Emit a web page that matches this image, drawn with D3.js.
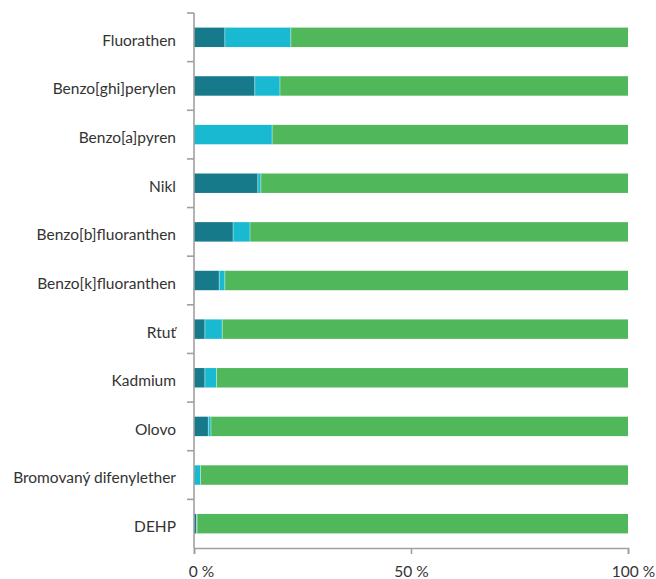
<!DOCTYPE html>
<html><head><meta charset="utf-8">
<script src="https://cdn.jsdelivr.net/npm/d3@7"></script>
<style>body{margin:0;background:#fff;} text{font-family:Lato,"Open Sans",sans-serif;}</style>
</head><body>
<svg id="chart" width="656" height="579"></svg>
<script>
const categories = ["Fluorathen","Benzo[ghi]perylen","Benzo[a]pyren","Nikl","Benzo[b]fluoranthen","Benzo[k]fluoranthen","Rtuť","Kadmium","Olovo","Bromovaný difenylether","DEHP"];
const seriesDark = [7.1, 14.0, 0, 14.7, 9.0, 5.8, 2.5, 2.5, 3.3, 0, 0.6];
const seriesCyan = [15.2, 5.8, 18.0, 0.7, 3.9, 1.3, 4.0, 2.7, 0.6, 1.5, 0.1];
const seriesGreen = seriesDark.map((d,i)=>100 - d - seriesCyan[i]);
const tickValues = [0, 50, 100];
const tickLabels = ["0 %", "50 %", "100 %"];
const colors = ["#177a8b", "#19bad1", "#50b85a"];

const svg = d3.select("#chart");
const mLeft = 194, mRight = 628, mTop = 13, mBottom = 548;
const x = d3.scaleLinear().domain([0,100]).range([mLeft,mRight]);
const y = d3.scaleBand().domain(categories).range([mTop,mBottom]).paddingInner(0.6).paddingOuter(0.3);

const rows = categories.map((c,i)=>({cat:c, dark:seriesDark[i], cyan:seriesCyan[i], green:seriesGreen[i]}));
const stack = d3.stack().keys(["dark","cyan","green"])(rows);

svg.append("g").selectAll("g").data(stack).join("g")
  .attr("fill",(d,i)=>colors[i])
  .selectAll("rect").data(d=>d).join("rect")
  .attr("x",d=>x(d[0]))
  .attr("width",d=>Math.max(0,x(d[1])-x(d[0])))
  .attr("y",d=>y(d.data.cat))
  .attr("height",y.bandwidth());

// separators
svg.append("g").selectAll("line").data(stack.slice(0,2).flatMap(s=>s.filter(d=>d[1]>0.3 && d[1]<99.7)))
  .join("line")
  .attr("x1",d=>x(d[1])).attr("x2",d=>x(d[1]))
  .attr("y1",d=>y(d.data.cat)).attr("y2",d=>y(d.data.cat)+y.bandwidth())
  .attr("stroke","#ffffff").attr("stroke-opacity",0.5).attr("stroke-width",0.8);

const axisColor = "#a0a0a0";
const step = (mBottom-mTop)/categories.length;
const gy = svg.append("g");
gy.append("line").attr("x1",mLeft).attr("x2",mLeft).attr("y1",mTop).attr("y2",mBottom).attr("stroke",axisColor).attr("stroke-width",1.6);
gy.selectAll("line.t").data(d3.range(categories.length)).join("line").attr("class","t")
  .attr("x1",mLeft-7).attr("x2",mLeft).attr("y1",i=>mTop+i*step).attr("y2",i=>mTop+i*step)
  .attr("stroke",axisColor).attr("stroke-width",1.6);
gy.selectAll("text").data(categories).join("text")
  .attr("x",176).attr("y",d=>y(d)+y.bandwidth()/2+3).attr("dy","0.35em")
  .attr("text-anchor","end").attr("font-size",15.5).attr("fill","#333").text(d=>d);

const gx = svg.append("g").attr("transform",`translate(0,${mBottom})`);
gx.call(d3.axisBottom(x).tickValues(tickValues).tickFormat((d,i)=>tickLabels[i]).tickSize(6).tickPadding(12));
gx.select(".domain").attr("stroke",axisColor).attr("stroke-width",1.6);
gx.selectAll(".tick line").attr("stroke",axisColor).attr("stroke-width",1.6);
gx.selectAll(".tick text").attr("font-size",15.5).attr("fill","#333").attr("font-family","Lato, 'Open Sans', sans-serif")
  .attr("dx",(d,i)=>i===0?7:(i===2?5:0));
</script>
</body></html>
